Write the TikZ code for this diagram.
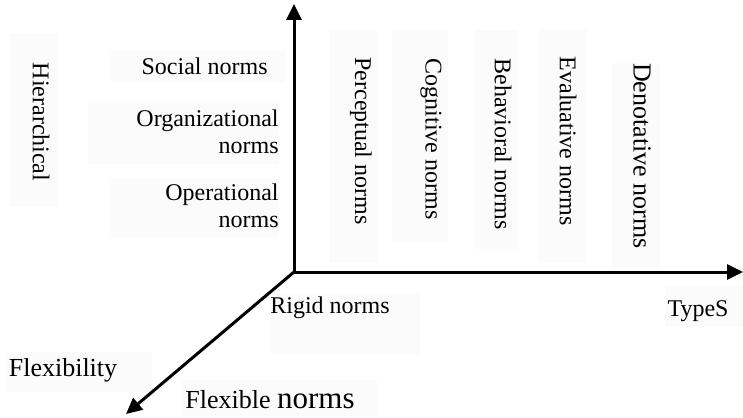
\documentclass[tikz,border=0pt]{standalone}
\usepackage{fontspec}
\setmainfont{Liberation Serif}
\usetikzlibrary{arrows.meta, positioning}
\definecolor{ink}      {HTML}{000000}
\definecolor{panefill} {HTML}{FBFBFB}
\tikzset{
  axis/.style  = {line width=1.5pt, ink, -{Triangle[length=8pt,width=7.5pt]}},
  pane/.style  = {fill=panefill},
  lbl/.style   = {font=\fontsize{12}{13.5}\selectfont, inner sep=0pt, text=ink},
  big/.style   = {lbl, font=\fontsize{13}{15}\selectfont},
  vlbl/.style  = {lbl, rotate=-90},
}

\begin{document}
\begin{tikzpicture}[x=0.5pt, y=-0.5pt]

  \useasboundingbox (0,0) rectangle (743,417);

  % faint panels behind the labels
  \fill[pane] (10,33)   rectangle (57,207);
  \fill[pane] (111,51)  rectangle (286,83);
  \fill[pane] (88,103)  rectangle (279,164);
  \fill[pane] (111,179) rectangle (279,237);
  \fill[pane] (329,29)  rectangle (377,263);
  \fill[pane] (392,29)  rectangle (448,243);
  \fill[pane] (475,30)  rectangle (518,249);
  \fill[pane] (539,29)  rectangle (587,263);
  \fill[pane] (612,63)  rectangle (660,268);
  \fill[pane] (665,285) rectangle (743,327);
  \fill[pane] (271,293) rectangle (420,355);
  \fill[pane] (5,352)   rectangle (152,392);
  \fill[pane] (182,380) rectangle (377,417);

  % axes
  \coordinate (o)     at (294,272);
  \coordinate (up)    at (294,4);
  \coordinate (right) at (743,272);
  \coordinate (down)  at (126,414);
  \draw[axis] (o) -- (up);
  \draw[axis] (o) -- (right);
  \draw[axis] (o) -- (down);

  % hierarchical levels
  \node[vlbl] (hier) at (41,122) {Hierarchical};
  \node[lbl, anchor=east] (social) at (268,66) {Social norms};
  \node[lbl, anchor=east, align=right] (org)  at (279,132) {Organizational\\norms};
  \node[lbl, anchor=east, align=right] (oper) at (279,206) {Operational\\norms};

  % types
  \node[vlbl] (perc) at (361,141) {Perceptual norms};
  \node[vlbl] (cogn) at (431,139) {Cognitive norms};
  \node[vlbl] (behv) at (503,144) {Behavioral norms};
  \node[vlbl] (eval) at (568,141) {Evaluative norms};
  \node[big, rotate=-90] (deno) at (642,156) {Denotative norms};
  \node[lbl] (types) at (698,311) {TypeS};

  % flexibility
  \node[lbl] (rigid) at (330,308) {Rigid norms};
  \node[big] (flexy) at (63,370) {Flexibility};
  \node[big] (flexn) at (270,400) {Flexible {\fontsize{15.5}{17}\selectfont norms}};

\end{tikzpicture}
\end{document}
